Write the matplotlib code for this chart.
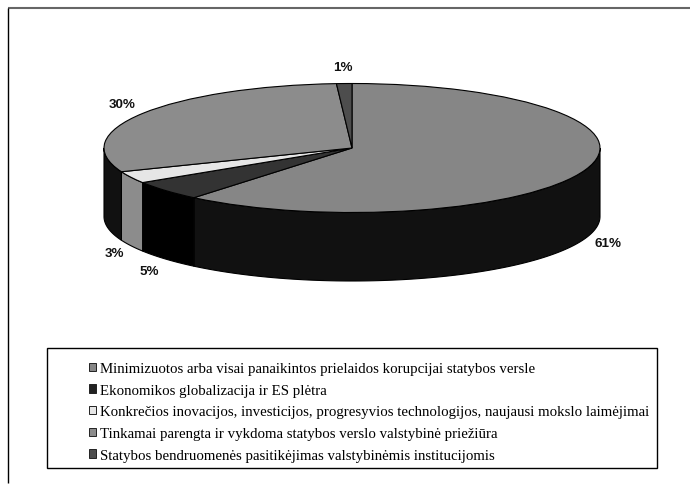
import numpy as np
import matplotlib
matplotlib.use("Agg")
import matplotlib.pyplot as plt
from matplotlib.patches import Patch, Polygon, Rectangle

values = [61, 5, 3, 30, 1]
pct_labels = ["61%", "5%", "3%", "30%", "1%"]
categories = [
    "Minimizuotos arba visai panaikintos prielaidos korupcijai statybos versle",
    "Ekonomikos globalizacija ir ES plėtra",
    "Konkrečios inovacijos, investicijos, progresyvios technologijos, naujausi mokslo laimėjimai",
    "Tinkamai parengta ir vykdoma statybos verslo valstybinė priežiūra",
    "Statybos bendruomenės pasitikėjimas valstybinėmis institucijomis",
]
top_colors = ["#868686", "#333333", "#e6e6e6", "#8c8c8c", "#4d4d4d"]
wall_colors = ["#111111", "#000000", "#8c8c8c", "#111111", "#4d4d4d"]
legend_colors = ["#868686", "#222222", "#e6e6e6", "#8c8c8c", "#4d4d4d"]
label_pos = [(608, 244), (149, 272), (114, 254), (122, 105), (343, 68)]

W, H = 690, 485
cx, cy, rx, ry, depth = 352, 149, 248, 64.5, 68.5

fig = plt.figure(figsize=(W / 100, H / 100), dpi=100)
ax = fig.add_axes([0, 0, 1, 1])


def edge(a):
    # angle in degrees clockwise from 12 o'clock, to pixel coords
    r = np.radians(a)
    return cx + rx * np.sin(r), cy - ry * np.cos(r)


starts = np.cumsum([0] + values[:-1]) * 3.6
ends = np.cumsum(values) * 3.6

# side walls, only the front half (90..270) shows
for a0, a1, col in zip(starts, ends, wall_colors):
    lo, hi = max(a0, 90), min(a1, 270)
    if lo < hi:
        t = np.linspace(lo, hi, 120)
        x, y = edge(t)
        pts = np.r_[np.c_[x, y], np.c_[x[::-1], y[::-1] + depth]]
        ax.add_patch(Polygon(pts, fc=col, ec="black", lw=0.8, zorder=2))

wedges, _ = ax.pie(values, colors=top_colors, startangle=90, counterclock=False,
                   center=(cx, cy), radius=1,
                   wedgeprops=dict(edgecolor="black", linewidth=0.8, zorder=3))
for w in wedges:
    # stretch the round pie into the flat ellipse
    w.set_transform(matplotlib.transforms.Affine2D().translate(-cx, -cy).scale(rx, -ry).translate(cx, cy) + ax.transData)

ax.set_aspect("auto")
ax.set_xlim(0, W)
ax.set_ylim(H, 0)
ax.axis("off")

for txt, (x, y) in zip(pct_labels, label_pos):
    ax.text(x, y, txt, family="Liberation Sans", fontweight="bold", fontsize=9.6,
            ha="center", va="center", color="#111111", zorder=5)

# frame only has a top and a left side, both run off the picture
ax.plot([8, W], [9, 9], color="#666666", lw=1.5, solid_capstyle="butt", zorder=1)
ax.plot([8, 8], [9, 484], color="black", lw=1, solid_capstyle="butt", zorder=1)
# legend box
ax.add_patch(Rectangle((47, 349), 610, 120, fc="white", ec="black", lw=1, zorder=4))

handles = [Patch(fc=c, ec="#222222", lw=0.7) for c in legend_colors]
leg = ax.legend(handles, categories, loc="upper left",
                bbox_to_anchor=(89 / W, 1 - 363 / H),
                prop=dict(family="Liberation Serif", size=10.75), frameon=False,
                handlelength=0.48, handleheight=0.48,
                handletextpad=0.25, labelspacing=0.585, borderaxespad=0, borderpad=0)
leg.set_zorder(6)

fig.savefig("out.png", dpi=100, facecolor="white")
